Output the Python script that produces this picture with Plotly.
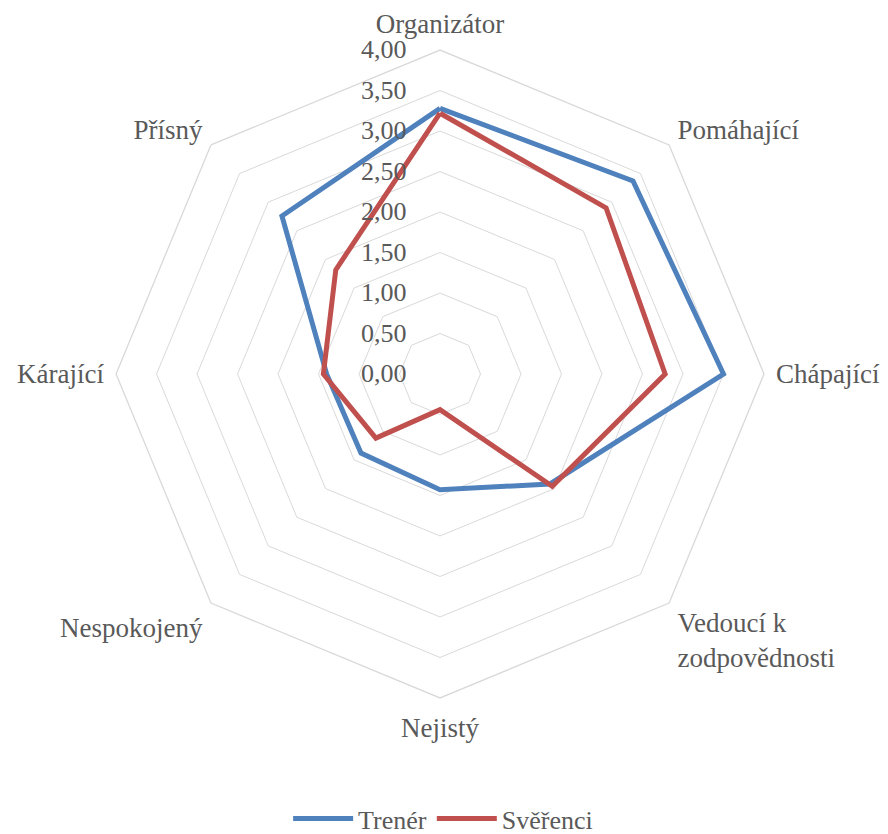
import plotly.graph_objects as go

categories = ["Organizátor", "Pomáhající", "Chápající", "Vedoucí k<br>zodpovědnosti",
              "Nejistý", "Nespokojený", "Kárající", "Přísný"]
trener = [3.28, 3.37, 3.50, 1.92, 1.43, 1.38, 1.40, 2.76]
sverenci = [3.22, 2.90, 2.78, 1.96, 0.44, 1.12, 1.44, 1.82]
tick_vals = [0, 0.5, 1, 1.5, 2, 2.5, 3, 3.5, 4]

FONT = "Liberation Serif"
TXT = "#595959"
GRID = "#d9d9d9"

fig = go.Figure()
for name, vals, col in [("Trenér", trener, "#4f81bd"), ("Svěřenci", sverenci, "#c0504d")]:
    fig.add_trace(go.Scatterpolar(
        r=vals + vals[:1], theta=categories + categories[:1], name=name,
        mode="lines", line=dict(color=col, width=5)))

fig.update_layout(
    width=888, height=834,
    separators=", ",
    paper_bgcolor="white",
    margin=dict(l=0, r=0, t=0, b=0),
    font=dict(family=FONT, size=26, color=TXT),
    polar=dict(
        domain=dict(x=[0.1216, 0.8514], y=[0.1727, 0.9496]),
        bgcolor="white",
        gridshape="linear",
        radialaxis=dict(range=[0, 4], tickvals=tick_vals, tickformat=".2f",
                        angle=90, tickangle=90, side="counterclockwise", showline=False,
                        ticks="outside", ticklen=24, tickcolor="rgba(0,0,0,0)",
                        gridcolor=GRID, gridwidth=1.3,
                        tickfont=dict(family=FONT, size=26, color=TXT)),
        angularaxis=dict(direction="clockwise", rotation=90, showgrid=False,
                         linecolor=GRID, linewidth=1.3,
                         ticks="outside", ticklen=6, tickcolor="rgba(0,0,0,0)",
                         tickfont=dict(family=FONT, size=27, color=TXT)),
    ),
    legend=dict(orientation="h", x=0.49, xanchor="center", y=0.0, yanchor="bottom",
                font=dict(family=FONT, size=26, color=TXT), itemwidth=60),
)
fig.write_html("out.html")
